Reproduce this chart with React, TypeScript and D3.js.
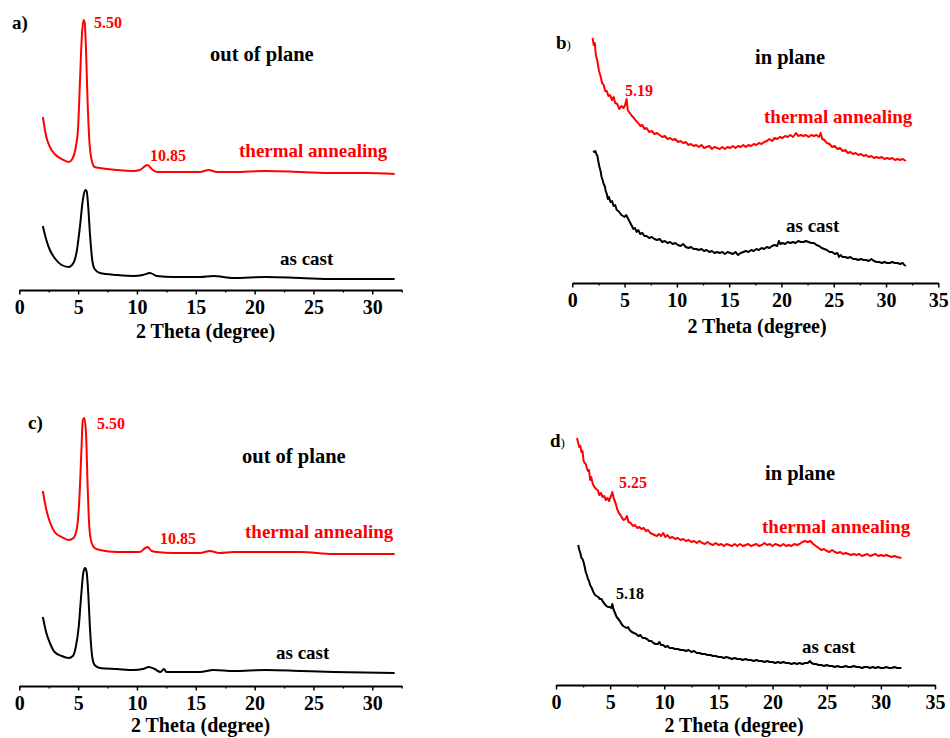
import React, { useEffect, useRef } from "react";
import * as d3 from "d3";

type Pt = [number, number];

// 2 Theta (degree) vs intensity (a.u.)

// a) out of plane
const annealA: Pt[] = [
  [2.0, 173], [2.3, 153], [2.6, 143], [3.0, 136], [3.6, 131], [4.2, 128], [4.45, 130],
  [4.8, 143], [5.0, 163], [5.15, 207], [5.3, 250], [5.45, 270], [5.55, 268], [5.67, 240],
  [5.8, 190], [5.95, 150], [6.15, 130], [6.4, 123], [6.85, 122], [8.3, 120], [9.7, 119],
  [10.25, 120], [10.7, 124], [10.9, 125], [11.25, 121], [11.7, 118], [13.1, 118], [15.35, 118],
  [16.1, 120], [16.8, 118], [18.2, 118], [21, 119], [23.9, 118], [26.7, 117], [29.5, 117], [31.9, 116],
];
const castA: Pt[] = [
  [2.0, 64], [2.3, 50], [2.6, 40], [3.0, 32], [3.6, 25], [4.2, 23], [4.6, 27], [4.9, 40],
  [5.15, 63], [5.4, 90], [5.6, 100], [5.72, 99], [5.86, 83], [6.0, 57], [6.2, 30], [6.4, 21],
  [6.85, 17], [8.3, 15], [9.7, 14], [10.5, 15], [11.1, 17], [11.7, 14], [13.1, 13], [15.35, 13],
  [16.5, 14], [18.2, 12], [21, 13], [23.9, 12], [26.7, 11], [31.9, 11],
];

// b) in plane
const annealB: Pt[] = [
  [1.94, 245], [2.05, 238], [2.15, 240], [2.25, 228], [2.4, 222], [2.55, 212], [2.7, 207], [2.85, 200],
  [3.0, 198], [3.15, 192], [3.3, 192], [3.45, 187], [3.6, 188], [3.8, 183], [3.95, 186], [4.1, 180],
  [4.3, 179], [4.5, 174], [4.7, 177], [4.9, 175], [5.05, 178], [5.19, 184], [5.3, 173], [5.5, 170],
  [5.7, 167], [5.9, 165], [6.1, 162], [6.3, 160], [6.5, 157], [6.7, 158], [6.9, 154], [7.1, 155],
  [7.35, 151], [7.6, 152], [7.85, 149], [8.1, 150], [8.35, 148], [8.6, 146], [8.85, 147], [9.1, 144],
  [9.35, 145], [9.6, 143], [9.85, 144], [10.1, 141], [10.35, 142], [10.6, 140], [10.85, 141], [11.1, 138],
  [11.35, 139], [11.6, 137], [11.85, 138], [12.1, 136], [12.35, 138], [12.6, 135], [12.85, 136], [13.1, 137],
  [13.35, 134], [13.6, 136], [13.85, 135], [14.1, 134], [14.35, 136], [14.6, 134], [14.85, 136], [15.1, 135],
  [15.35, 137], [15.6, 135], [15.85, 137], [16.1, 136], [16.35, 138], [16.6, 136], [16.85, 138], [17.1, 137],
  [17.35, 139], [17.6, 138], [17.85, 140], [18.1, 139], [18.35, 141], [18.6, 142], [18.85, 144], [19.1, 142],
  [19.35, 145], [19.6, 144], [19.85, 146], [20.1, 145], [20.35, 147], [20.6, 146], [20.85, 148], [21.1, 146],
  [21.4, 150], [21.6, 147], [21.85, 148], [22.1, 147], [22.35, 148], [22.6, 146], [22.85, 148], [23.1, 147],
  [23.35, 148], [23.6, 146], [23.75, 150], [23.9, 144], [24.1, 143], [24.35, 140], [24.6, 139], [24.85, 136],
  [25.1, 137], [25.35, 134], [25.6, 135], [25.85, 132], [26.1, 133], [26.35, 130], [26.6, 131], [26.85, 129],
  [27.1, 130], [27.35, 128], [27.6, 129], [27.85, 127], [28.1, 128], [28.35, 126], [28.6, 127], [28.85, 125],
  [29.1, 126], [29.35, 125], [29.6, 126], [29.85, 124], [30.1, 125], [30.35, 124], [30.6, 125], [30.85, 123],
  [31.1, 124], [31.35, 123], [31.6, 124], [31.9, 122],
];
const castB: Pt[] = [
  [2.0, 132], [2.1, 131], [2.2, 132], [2.3, 129], [2.4, 127], [2.5, 121], [2.6, 116], [2.7, 112],
  [2.8, 106], [2.9, 103], [3.0, 99], [3.1, 97], [3.2, 92], [3.3, 89], [3.4, 84], [3.5, 86],
  [3.65, 81], [3.8, 82], [3.95, 77], [4.1, 78], [4.25, 73], [4.4, 72], [4.55, 70], [4.7, 68],
  [4.85, 67], [5.0, 66], [5.15, 68], [5.3, 65], [5.5, 61], [5.7, 57], [5.85, 54], [6.0, 55],
  [6.15, 51], [6.3, 53], [6.5, 49], [6.7, 50], [6.9, 47], [7.1, 47], [7.35, 45], [7.6, 46],
  [7.85, 44], [8.1, 43], [8.35, 44], [8.6, 41], [8.85, 42], [9.1, 40], [9.35, 41], [9.6, 39],
  [9.85, 40], [10.1, 38], [10.35, 37], [10.6, 39], [10.85, 36], [11.1, 35], [11.35, 36], [11.6, 34],
  [11.85, 34], [12.1, 33], [12.35, 34], [12.6, 32], [12.85, 33], [13.1, 31], [13.35, 32], [13.6, 30],
  [13.85, 31], [14.1, 30], [14.35, 31], [14.6, 29], [14.85, 31], [15.1, 30], [15.35, 29], [15.6, 31],
  [15.85, 28], [16.1, 30], [16.35, 31], [16.6, 32], [16.85, 31], [17.1, 33], [17.35, 32], [17.6, 34],
  [17.85, 33], [18.1, 35], [18.35, 34], [18.6, 36], [18.85, 35], [19.1, 37], [19.35, 38], [19.6, 37],
  [19.75, 42], [19.9, 39], [20.1, 40], [20.35, 39], [20.6, 41], [20.85, 40], [21.1, 41], [21.35, 40],
  [21.6, 42], [21.85, 41], [22.1, 41], [22.35, 42], [22.6, 41], [22.85, 40], [23.1, 40], [23.35, 38],
  [23.6, 37], [23.85, 35], [24.1, 34], [24.35, 33], [24.6, 31], [24.85, 31], [25.1, 29], [25.35, 30],
  [25.5, 26], [25.65, 28], [25.85, 26], [26.1, 26], [26.35, 25], [26.6, 26], [26.85, 24], [27.1, 24],
  [27.35, 23], [27.6, 24], [27.85, 23], [28.1, 23], [28.35, 22], [28.6, 24], [28.85, 22], [29.1, 21],
  [29.35, 21], [29.6, 20], [29.85, 21], [30.1, 20], [30.35, 20], [30.6, 21], [30.85, 20], [31.1, 20],
  [31.35, 19], [31.6, 20], [31.75, 18], [31.9, 17],
];

// c) out of plane
const annealC: Pt[] = [
  [2.0, 195], [2.3, 176], [2.6, 164], [3.0, 154], [3.6, 149], [4.2, 146], [4.6, 148], [4.9, 158],
  [5.1, 186], [5.27, 233], [5.4, 266], [5.52, 268], [5.67, 253], [5.8, 203], [5.95, 159], [6.15, 143],
  [6.4, 138], [6.85, 136], [8.3, 134], [9.7, 134], [10.25, 134], [10.7, 138], [10.9, 139], [11.25, 135],
  [11.7, 134], [13.1, 133], [15.35, 133], [16.2, 135], [17.0, 133], [18.2, 134], [21, 134], [23.9, 134],
  [26.7, 132], [29.5, 132], [31.9, 132],
];
const castC: Pt[] = [
  [2.0, 69], [2.3, 53], [2.6, 43], [3.0, 34], [3.6, 30], [4.2, 28], [4.55, 30], [4.8, 39],
  [5.05, 59], [5.25, 89], [5.45, 114], [5.6, 118], [5.72, 114], [5.86, 93], [6.0, 59], [6.2, 29],
  [6.4, 21], [6.85, 18], [8.3, 17], [9.7, 16], [10.5, 17], [11.0, 19], [11.5, 17], [12.0, 14],
  [12.3, 17], [12.5, 14], [13.1, 14], [15.35, 14], [16.5, 16], [18.2, 15], [21, 16], [23.9, 15],
  [26.7, 14], [31.9, 13],
];

// d) in plane
const annealD: Pt[] = [
  [1.94, 247], [2.05, 242], [2.15, 238], [2.25, 239], [2.35, 233], [2.45, 234], [2.55, 224], [2.65, 222],
  [2.75, 221], [2.85, 217], [2.95, 214], [3.05, 215], [3.15, 205], [3.25, 208], [3.4, 201], [3.55, 198],
  [3.7, 196], [3.85, 195], [4.0, 190], [4.15, 192], [4.3, 188], [4.45, 189], [4.6, 185], [4.75, 187],
  [4.9, 184], [5.05, 188], [5.2, 193], [5.35, 186], [5.5, 182], [5.65, 176], [5.8, 172], [5.95, 170],
  [6.1, 167], [6.25, 165], [6.4, 166], [6.55, 169], [6.7, 163], [6.9, 162], [7.1, 159], [7.3, 160],
  [7.5, 157], [7.7, 158], [7.9, 156], [8.1, 157], [8.3, 154], [8.5, 155], [8.7, 152], [8.9, 151],
  [9.1, 150], [9.3, 149], [9.5, 151], [9.7, 149], [9.9, 152], [10.1, 148], [10.3, 150], [10.5, 147],
  [10.75, 148], [11.0, 146], [11.25, 147], [11.5, 145], [11.75, 146], [12.0, 144], [12.25, 145], [12.5, 143],
  [12.75, 144], [13.0, 142], [13.25, 144], [13.5, 142], [13.75, 141], [14.0, 143], [14.25, 141], [14.5, 140],
  [14.75, 142], [15.0, 140], [15.25, 141], [15.5, 139], [15.75, 141], [16.0, 140], [16.25, 139], [16.5, 141],
  [16.75, 139], [17.0, 141], [17.25, 139], [17.5, 140], [17.75, 141], [18.0, 139], [18.25, 140], [18.5, 141],
  [18.75, 139], [19.0, 140], [19.25, 142], [19.5, 140], [19.75, 141], [20.0, 139], [20.25, 141], [20.5, 140],
  [20.75, 139], [21.0, 141], [21.25, 139], [21.5, 140], [21.75, 139], [22.0, 141], [22.25, 140], [22.5, 141],
  [22.75, 143], [23.0, 144], [23.25, 143], [23.5, 144], [23.75, 141], [24.0, 139], [24.25, 137], [24.5, 135],
  [24.75, 136], [25.0, 134], [25.25, 133], [25.5, 135], [25.75, 133], [26.0, 132], [26.25, 133], [26.5, 131],
  [26.75, 132], [27.0, 131], [27.25, 130], [27.5, 131], [27.75, 130], [28.0, 131], [28.25, 129], [28.5, 130],
  [28.75, 131], [29.0, 129], [29.25, 130], [29.5, 131], [29.75, 129], [30.0, 130], [30.25, 129], [30.5, 130],
  [30.75, 129], [31.0, 128], [31.25, 129], [31.5, 128], [31.9, 127],
];
const castD: Pt[] = [
  [2.05, 140], [2.15, 135], [2.25, 132], [2.35, 127], [2.45, 126], [2.55, 123], [2.65, 118], [2.75, 113],
  [2.85, 110], [2.95, 106], [3.05, 104], [3.15, 100], [3.3, 97], [3.45, 93], [3.6, 90], [3.75, 89],
  [3.9, 88], [4.05, 86], [4.2, 86], [4.35, 83], [4.5, 81], [4.65, 79], [4.8, 78], [4.95, 78],
  [5.1, 77], [5.2, 81], [5.3, 76], [5.45, 72], [5.6, 68], [5.75, 66], [5.9, 64], [6.05, 61],
  [6.2, 59], [6.35, 58], [6.5, 57], [6.65, 58], [6.8, 55], [7.0, 53], [7.2, 52], [7.4, 51],
  [7.6, 49], [7.8, 50], [8.0, 47], [8.2, 47], [8.4, 46], [8.6, 44], [8.8, 44], [9.0, 42],
  [9.2, 41], [9.4, 41], [9.55, 43], [9.7, 40], [9.9, 40], [10.1, 38], [10.3, 39], [10.5, 37],
  [10.75, 37], [11.0, 36], [11.25, 36], [11.5, 35], [11.75, 35], [12.0, 34], [12.25, 35], [12.5, 33],
  [12.75, 34], [13.0, 32], [13.25, 32], [13.5, 31], [13.75, 31], [14.0, 30], [14.25, 30], [14.5, 29],
  [14.75, 29], [15.0, 28], [15.25, 28], [15.5, 27], [15.75, 28], [16.0, 27], [16.25, 26], [16.5, 27],
  [16.75, 26], [17.0, 26], [17.25, 25], [17.5, 26], [17.75, 25], [18.0, 25], [18.25, 24], [18.5, 25],
  [18.75, 24], [19.0, 24], [19.25, 23], [19.5, 24], [19.75, 23], [20.0, 23], [20.25, 22], [20.5, 23],
  [20.75, 22], [21.0, 23], [21.25, 22], [21.5, 22], [21.75, 21], [22.0, 22], [22.25, 21], [22.5, 22],
  [22.75, 21], [23.0, 22], [23.25, 22], [23.45, 24], [23.6, 22], [23.8, 21], [24.0, 21], [24.25, 20],
  [24.5, 20], [24.75, 19], [25.0, 20], [25.25, 19], [25.5, 19], [25.75, 18], [26.0, 19], [26.25, 18],
  [26.5, 18], [26.75, 19], [27.0, 18], [27.25, 18], [27.5, 19], [27.75, 18], [28.0, 18], [28.25, 17],
  [28.5, 18], [28.75, 18], [29.0, 17], [29.25, 18], [29.5, 17], [29.75, 18], [30.0, 17], [30.25, 17],
  [30.5, 18], [30.75, 17], [31.0, 17], [31.25, 18], [31.5, 17], [31.9, 17],
];

const majorShort = [0, 5, 10, 15, 20, 25, 30];
const majorLong = [0, 5, 10, 15, 20, 25, 30, 35];
const minorTicks = [2.5, 7.5, 12.5, 17.5, 22.5, 27.5, 32.5];

const RED = "#ff0000";
const FONT = "'Liberation Serif', 'Times New Roman', Times, serif";

type Label = { text: string; x: number; y: number; size: number; color: string };

const panels = [
  {
    letter: "a", x0: 19.3, x1: 401.7, xMax: 32.5, axisY: 290, ticks: majorShort, titleX: 205.5, titleY: 338,
    anneal: annealA, cast: castA, smooth: true, letterX: 12, letterY: 29, plainParen: false,
    labels: [
      { text: "5.50", x: 94, y: 28, size: 16, color: RED },
      { text: "out of plane", x: 210, y: 61, size: 20.5, color: "#000" },
      { text: "10.85", x: 150, y: 161, size: 16, color: RED },
      { text: "thermal annealing", x: 239, y: 157, size: 19, color: RED },
      { text: "as cast", x: 280, y: 265, size: 19, color: "#000" },
    ] as Label[],
  },
  {
    letter: "b", x0: 572.3, x1: 938.3, xMax: 35, axisY: 283, ticks: majorLong, titleX: 757, titleY: 333,
    anneal: annealB, cast: castB, smooth: false, letterX: 556, letterY: 49, plainParen: true,
    labels: [
      { text: "in plane", x: 755, y: 64, size: 20.5, color: "#000" },
      { text: "5.19", x: 625, y: 96, size: 16, color: RED },
      { text: "thermal annealing", x: 764, y: 123, size: 19, color: RED },
      { text: "as cast", x: 786, y: 232, size: 19, color: "#000" },
    ] as Label[],
  },
  {
    letter: "c", x0: 19.3, x1: 401.7, xMax: 32.5, axisY: 686, ticks: majorShort, titleX: 200.5, titleY: 732,
    anneal: annealC, cast: castC, smooth: true, letterX: 28, letterY: 429, plainParen: false,
    labels: [
      { text: "5.50", x: 97, y: 429, size: 16, color: RED },
      { text: "out of plane", x: 242, y: 463, size: 20.5, color: "#000" },
      { text: "10.85", x: 160, y: 544, size: 16, color: RED },
      { text: "thermal annealing", x: 245, y: 538, size: 19, color: RED },
      { text: "as cast", x: 276, y: 659, size: 19, color: "#000" },
    ] as Label[],
  },
  {
    letter: "d", x0: 556, x1: 935, xMax: 35, axisY: 685, ticks: majorLong, titleX: 734, titleY: 732,
    anneal: annealD, cast: castD, smooth: false, letterX: 550, letterY: 447, plainParen: true,
    labels: [
      { text: "in plane", x: 765, y: 480, size: 20.5, color: "#000" },
      { text: "5.25", x: 619, y: 488, size: 16, color: RED },
      { text: "thermal annealing", x: 762, y: 533, size: 19, color: RED },
      { text: "5.18", x: 616, y: 599, size: 16, color: "#000" },
      { text: "as cast", x: 802, y: 653, size: 19, color: "#000" },
    ] as Label[],
  },
];

const App = () => {
  const ref = useRef<SVGSVGElement>(null);

  useEffect(() => {
    const svg = d3.select(ref.current);
    svg.selectAll("*").remove();

    panels.forEach((p) => {
      const g = svg.append("g");
      const x = d3.scaleLinear().domain([0, p.xMax]).range([p.x0, p.x1]);
      const y = d3.scaleLinear().domain([0, 280]).range([p.axisY, p.axisY - 280]);

      const line = d3
        .line<Pt>()
        .x((d) => x(d[0]))
        .y((d) => y(d[1]))
        .curve(p.smooth ? d3.curveMonotoneX : d3.curveLinear);

      g.append("path")
        .attr("d", line(p.anneal))
        .attr("fill", "none")
        .attr("stroke", RED)
        .attr("stroke-width", 2)
        .attr("stroke-linejoin", "round");

      g.append("path")
        .attr("d", line(p.cast))
        .attr("fill", "none")
        .attr("stroke", "#000")
        .attr("stroke-width", 2)
        .attr("stroke-linejoin", "round");

      // minor ticks
      const minor = g
        .append("g")
        .attr("transform", `translate(0,${p.axisY})`)
        .call(d3.axisBottom(x).tickValues(minorTicks).tickSize(2.5).tickFormat(() => ""));
      minor.select(".domain").remove();
      minor.selectAll("line").attr("stroke-width", 1.3);

      const major = g
        .append("g")
        .attr("transform", `translate(0,${p.axisY})`)
        .call(
          d3
            .axisBottom(x)
            .tickValues(p.ticks)
            .tickSize(4.5)
            .tickSizeOuter(0)
            .tickPadding(5.5)
            .tickFormat(d3.format("d"))
        );
      major.select(".domain").attr("stroke-width", 1.8);
      major.selectAll("line").attr("stroke-width", 1.5);
      major
        .selectAll("text")
        .attr("font-family", FONT)
        .attr("font-weight", "bold")
        .attr("font-size", 20)
        .attr("fill", "#000");

      g.append("text")
        .attr("x", p.titleX)
        .attr("y", p.titleY)
        .attr("text-anchor", "middle")
        .attr("font-family", FONT)
        .attr("font-weight", "bold")
        .attr("font-size", 20)
        .text("2 Theta (degree)");

      const letter = g
        .append("text")
        .attr("x", p.letterX)
        .attr("y", p.letterY)
        .attr("font-family", FONT)
        .attr("font-weight", "bold")
        .attr("font-size", 19);
      letter.append("tspan").text(p.letter);
      letter
        .append("tspan")
        .attr("font-size", p.plainParen ? 13 : 19)
        .attr("font-weight", p.plainParen ? "normal" : "bold")
        .text(")");

      p.labels.forEach((l) => {
        g.append("text")
          .attr("x", l.x)
          .attr("y", l.y)
          .attr("font-family", FONT)
          .attr("font-weight", "bold")
          .attr("font-size", l.size)
          .attr("fill", l.color)
          .text(l.text);
      });
    });
  });

  return (
    <div>
      <svg
        ref={ref}
        width={950}
        height={738}
        style={{ position: "absolute", left: 0, top: 0, background: "#fff" }}
      />
    </div>
  );
};

export default App;
